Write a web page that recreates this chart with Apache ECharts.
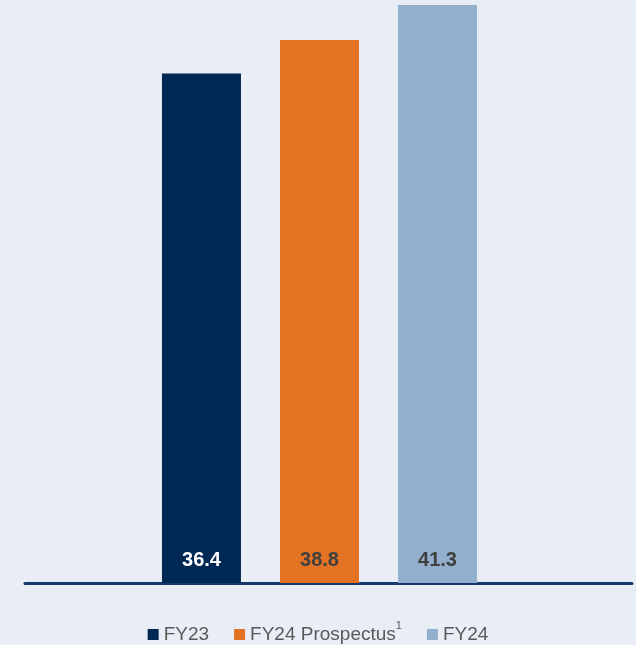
<!DOCTYPE html>
<html><head><meta charset="utf-8">
<script src="https://cdn.jsdelivr.net/npm/echarts@6/dist/echarts.min.js"></script>
<style>html,body{margin:0;padding:0;background:#E9EDF5}#c{width:636px;height:645px}</style>
</head><body><div id="c"></div>
<script>
const categories = ["Total"];
const seriesNames = ["FY23", "FY24 Prospectus", "FY24"];
const fy23 = [36.4];
const fy24Prospectus = [38.8];
const fy24 = [41.3];
const colors = ["#002855", "#E37222", "#92B0CD"];
const labelColors = ["#FFFFFF", "#404040", "#404040"];
const values = [fy23, fy24Prospectus, fy24];

const chart = echarts.init(document.getElementById('c'), null, {renderer: 'canvas'});
chart.setOption({
  backgroundColor: '#E9EDF5',
  animation: false,
  grid: [
    {left: 142, width: 355, top: 5, height: 578},
    {left: 25, width: 607, top: 5, height: 578}
  ],
  xAxis: [
    {type: 'category', data: categories, gridIndex: 0, axisLine: {show: false}, axisTick: {show: false}, axisLabel: {show: false}},
    {type: 'value', gridIndex: 1, min: 0, max: 1, axisLine: {show: true, onZero: false, lineStyle: {color: '#123A6B', width: 3}}, axisTick: {show: false}, axisLabel: {show: false}, splitLine: {show: false}}
  ],
  yAxis: [
    {type: 'value', gridIndex: 0, min: 0, max: 41.3, show: false, splitLine: {show: false}},
    {type: 'value', gridIndex: 1, min: 0, max: 1, show: false, splitLine: {show: false}}
  ],
  legend: {
    bottom: -4,
    left: 'center',
    itemWidth: 11,
    itemHeight: 11,
    itemGap: 25,
    icon: 'rect',
    data: seriesNames,
    textStyle: {
      color: '#595959', fontSize: 19, fontFamily: 'Liberation Sans',
      rich: {
        a: {color: '#595959', fontSize: 19, fontFamily: 'Liberation Sans'},
        sup: {color: '#595959', fontSize: 11, fontFamily: 'Liberation Sans', padding: [0, 0, 18, 0]}
      }
    },
    formatter: function (name) {
      if (name === 'FY24 Prospectus') return '{a|FY24 Prospectus}{sup|1}';
      return name;
    }
  },
  series: seriesNames.map((n, i) => ({
    name: n,
    type: 'bar',
    xAxisIndex: 0,
    yAxisIndex: 0,
    data: values[i],
    barWidth: 79,
    barGap: '49.4%',
    itemStyle: {color: colors[i]},
    z: 1,
    label: {
      show: true,
      position: 'insideBottom',
      distance: 13,
      color: labelColors[i],
      fontSize: 20,
      fontWeight: 'bold',
      fontFamily: 'Liberation Sans',
      formatter: (p) => p.value.toFixed(1)
    }
  })).concat([{
    type: 'line', xAxisIndex: 1, yAxisIndex: 1, data: [], silent: true
  }])
});
</script></body></html>
